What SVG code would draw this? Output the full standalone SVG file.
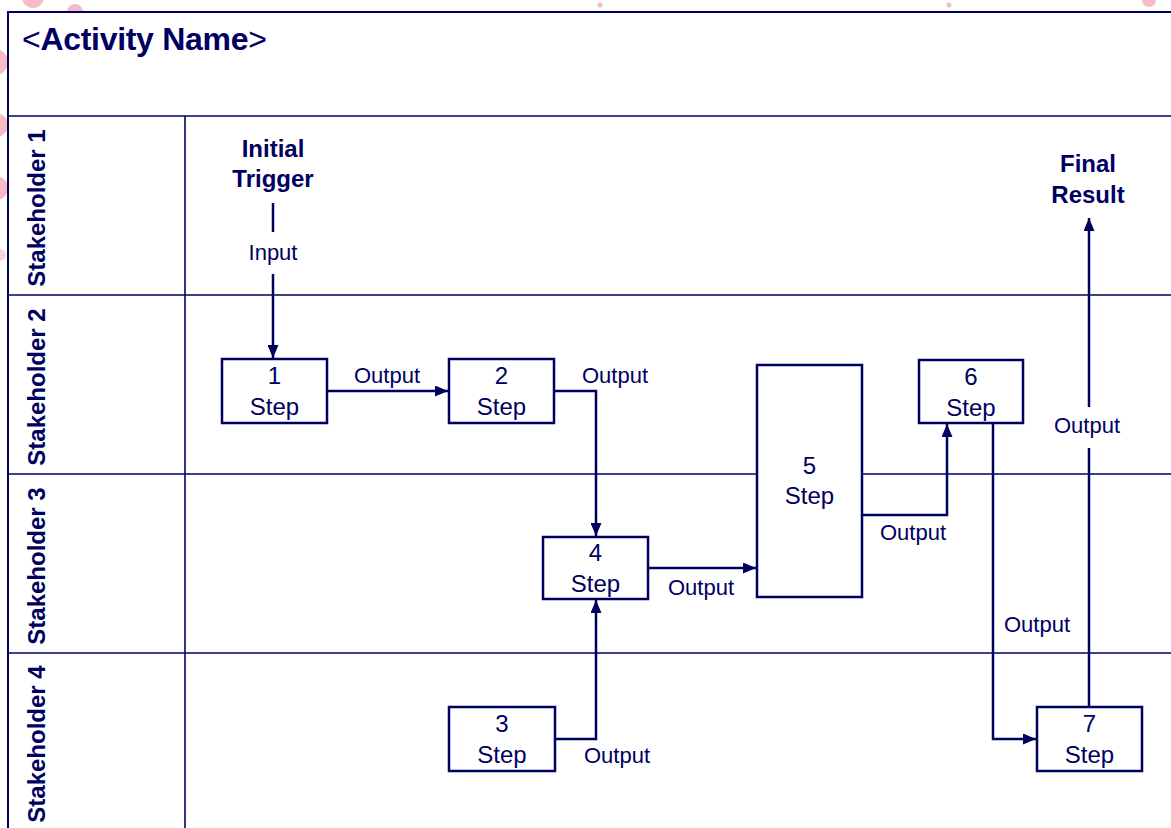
<svg xmlns="http://www.w3.org/2000/svg" width="1171" height="828" viewBox="0 0 1171 828">
<style>
.t{font-family:"Liberation Sans",Arial,sans-serif;fill:#000060}
.b{font-weight:bold}
.lane{font-family:"Liberation Sans",Arial,sans-serif;font-weight:bold;font-size:24px;fill:#000060;text-anchor:middle}
.box{fill:#fff;stroke:#000060;stroke-width:2.5}
.num{font-family:"Liberation Sans",Arial,sans-serif;font-size:24px;fill:#000060;text-anchor:middle}
.lbl{font-family:"Liberation Sans",Arial,sans-serif;font-size:22px;fill:#000060}
.c{fill:none;stroke:#000060;stroke-width:2.5}
.g{fill:none;stroke:#000060;stroke-width:1.6}
.dot{fill:#f6bcc4}
</style>
<defs>
<marker id="ah" markerUnits="userSpaceOnUse" markerWidth="13" markerHeight="11" refX="13" refY="5.5" orient="auto">
<path d="M0,0 L13,5.5 L0,11 z" fill="#000060"/>
</marker>
</defs>
<rect width="1171" height="828" fill="#fff"/>
<g id="decor">
<circle class="dot" cx="33" cy="-3" r="11"/>
<circle class="dot" cx="75" cy="12" r="8"/>
<circle class="dot" cx="-5" cy="62" r="13"/>
<circle class="dot" cx="-4" cy="125" r="12"/>
<circle class="dot" cx="-4" cy="188" r="12"/>
<circle class="dot" cx="0" cy="255" r="6" opacity="0.6"/>
<circle class="dot" cx="600" cy="5" r="2.5"/>
<circle class="dot" cx="949" cy="5" r="2.5"/>
<circle class="dot" cx="1149" cy="0" r="7"/>
</g>
<g id="frame">
<rect x="8" y="12" width="1175" height="830" fill="#fff" stroke="#000060" stroke-width="2"/>
<line class="g" x1="8" y1="116" x2="1171" y2="116"/>
<line class="g" x1="8" y1="295" x2="1171" y2="295"/>
<line class="g" x1="8" y1="474" x2="1171" y2="474"/>
<line class="g" x1="8" y1="653" x2="1171" y2="653"/>
<line class="g" x1="185" y1="116" x2="185" y2="828"/>
<text class="t" x="22" y="50" font-size="32" letter-spacing="-0.3">&lt;<tspan class="b">Activity Name</tspan>&gt;</text>
</g>
<g id="lanes">
<text class="lane" transform="translate(45,208) rotate(-90)">Stakeholder 1</text>
<text class="lane" transform="translate(45,387) rotate(-90)">Stakeholder 2</text>
<text class="lane" transform="translate(45,566) rotate(-90)">Stakeholder 3</text>
<text class="lane" transform="translate(45,744) rotate(-90)">Stakeholder 4</text>
</g>
<g id="trigger">
<text class="t b" x="273" y="157" font-size="24" text-anchor="middle">Initial</text>
<text class="t b" x="273" y="187" font-size="24" text-anchor="middle">Trigger</text>
</g>
<g id="result">
<text class="t b" x="1088" y="172" font-size="24" text-anchor="middle">Final</text>
<text class="t b" x="1088" y="203" font-size="24" text-anchor="middle">Result</text>
</g>
<g id="step1"><rect class="box" x="222" y="359" width="105" height="64"/><text class="num" x="274.5" y="384">1</text><text class="num" x="274.5" y="415">Step</text></g>
<g id="step2"><rect class="box" x="449" y="359" width="105" height="64"/><text class="num" x="501.5" y="384">2</text><text class="num" x="501.5" y="415">Step</text></g>
<g id="step3"><rect class="box" x="449" y="707" width="106" height="64"/><text class="num" x="502" y="732">3</text><text class="num" x="502" y="763">Step</text></g>
<g id="step4"><rect class="box" x="543" y="537" width="105" height="62"/><text class="num" x="595.5" y="561">4</text><text class="num" x="595.5" y="592">Step</text></g>
<g id="step5"><rect class="box" x="757" y="365" width="105" height="232"/><text class="num" x="809.5" y="474">5</text><text class="num" x="809.5" y="504">Step</text></g>
<g id="step6"><rect class="box" x="919" y="360" width="104" height="63"/><text class="num" x="971" y="385">6</text><text class="num" x="971" y="416">Step</text></g>
<g id="step7"><rect class="box" x="1037" y="707" width="105" height="64"/><text class="num" x="1089.5" y="732">7</text><text class="num" x="1089.5" y="763">Step</text></g>
<g id="connectors">
<line class="c" x1="273" y1="203" x2="273" y2="232"/>
<line class="c" x1="273" y1="274" x2="273" y2="358" marker-end="url(#ah)"/>
<line class="c" x1="327" y1="391" x2="448" y2="391" marker-end="url(#ah)"/>
<polyline class="c" points="554,391 596,391 596,536" marker-end="url(#ah)"/>
<line class="c" x1="648" y1="568" x2="756" y2="568" marker-end="url(#ah)"/>
<polyline class="c" points="555,739 596,739 596,600" marker-end="url(#ah)"/>
<polyline class="c" points="862,515 947,515 947,424" marker-end="url(#ah)"/>
<polyline class="c" points="993,423 993,739 1036,739" marker-end="url(#ah)"/>
<line class="c" x1="1089" y1="707" x2="1089" y2="448"/>
<line class="c" x1="1089" y1="407" x2="1089" y2="218" marker-end="url(#ah)"/>
<text class="lbl" x="273" y="260" text-anchor="middle">Input</text>
<text class="lbl" x="387" y="383" text-anchor="middle">Output</text>
<text class="lbl" x="582" y="383">Output</text>
<text class="lbl" x="668" y="595">Output</text>
<text class="lbl" x="584" y="763">Output</text>
<text class="lbl" x="880" y="540">Output</text>
<text class="lbl" x="1004" y="632">Output</text>
<text class="lbl" x="1087" y="433" text-anchor="middle">Output</text>
</g>
</svg>
